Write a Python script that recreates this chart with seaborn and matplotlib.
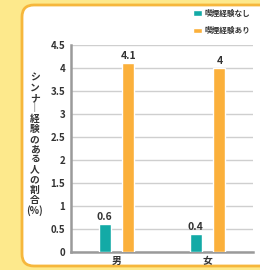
import matplotlib
matplotlib.use("Agg")
import matplotlib.pyplot as plt
import matplotlib.patches as mpatches
from matplotlib.transforms import IdentityTransform
from matplotlib.ticker import FixedLocator, FormatStrFormatter
import pandas as pd
import seaborn as sns

# data
sexes = ["男", "女"]
no_smoking = [0.6, 0.4]
smoking = [4.1, 4.0]
hue_labels = ["喫煙経験なし", "喫煙経験あり"]
yticks = [0, 0.5, 1, 1.5, 2, 2.5, 3, 3.5, 4, 4.5]
ylabel_text = "シンナ｜経験のある人の割合"

TEAL = "#13aaa6"
ORANGE = "#fbb03b"
YELLOW = "#fde98c"
BORDER = "#f6b73c"
GRID = "#cfcfcf"
SPINE = "#9a9a9a"
TEXT = "#333333"

df = pd.DataFrame({
    "sex": sexes * 2,
    "rate": no_smoking + smoking,
    "group": [hue_labels[0]] * len(sexes) + [hue_labels[1]] * len(sexes),
})

sns.set_style("white")
plt.rcParams["font.family"] = ["Noto Sans CJK JP", "DejaVu Sans"]

DPI = 100
fig = plt.figure(figsize=(2.6, 2.7), dpi=DPI, facecolor=YELLOW)

# white rounded panel with orange border (pixel coords)
panel = mpatches.FancyBboxPatch((34, 16), 240, 237,
                                boxstyle="round,pad=12",
                                transform=IdentityTransform(),
                                facecolor="white", edgecolor=BORDER,
                                linewidth=2, zorder=-5)
fig.add_artist(panel)

ax = fig.add_axes([71 / 260, 18 / 270, (253 - 71) / 260, (252 - 45) / 270])
ax.set_facecolor("none")

sns.barplot(data=df, x="sex", y="rate", hue="group", hue_order=hue_labels,
            palette=[TEAL, ORANGE], width=0.52, gap=0.5, ax=ax,
            saturation=1, errorbar=None, zorder=3)

for cont in ax.containers:
    ax.bar_label(cont, fmt="{:g}", padding=1.5, fontsize=7.5,
                 color=TEXT, fontweight="bold")

ax.set_xlim(-0.5, 1.5)
ax.set_ylim(0, 4.5)
ax.yaxis.set_major_locator(FixedLocator(yticks))
ax.yaxis.set_major_formatter(FormatStrFormatter("%g"))
ax.grid(axis="y", color=GRID, linewidth=1, zorder=0)
ax.set_axisbelow(True)

ax.xaxis.set_minor_locator(FixedLocator([0.5, 1.5]))
ax.tick_params(axis="x", which="major", length=0, pad=3, labelsize=7,
               labelcolor=TEXT)
ax.tick_params(axis="x", which="minor", direction="in", length=5, width=1.5,
               color=SPINE)
ax.tick_params(axis="y", direction="in", length=5, width=1.5, color=SPINE,
               labelsize=7, labelcolor=TEXT, pad=4)
for lab in ax.get_xticklabels() + ax.get_yticklabels():
    lab.set_fontweight("bold")

for side in ["top", "right"]:
    ax.spines[side].set_visible(False)
for side in ["left", "bottom"]:
    ax.spines[side].set_color(SPINE)
    ax.spines[side].set_linewidth(1.8)

ax.set_xlabel("")
ax.set_ylabel("\n".join(ylabel_text) + "\n(%)", rotation=0, fontsize=7,
              color=TEXT, linespacing=1.02, fontweight="bold", va="center",
              ha="center")
ax.yaxis.set_label_coords(-0.2, 0.52)

leg = ax.legend(loc="upper right", bbox_to_anchor=(1.0, 1.19), frameon=False,
                fontsize=5.5, handlelength=1.1, handleheight=0.8,
                handletextpad=0.3, labelspacing=1.1, borderaxespad=0)
for t in leg.get_texts():
    t.set_color(TEXT)
    t.set_fontweight("bold")

fig.savefig("out.png", dpi=DPI, facecolor=YELLOW)
